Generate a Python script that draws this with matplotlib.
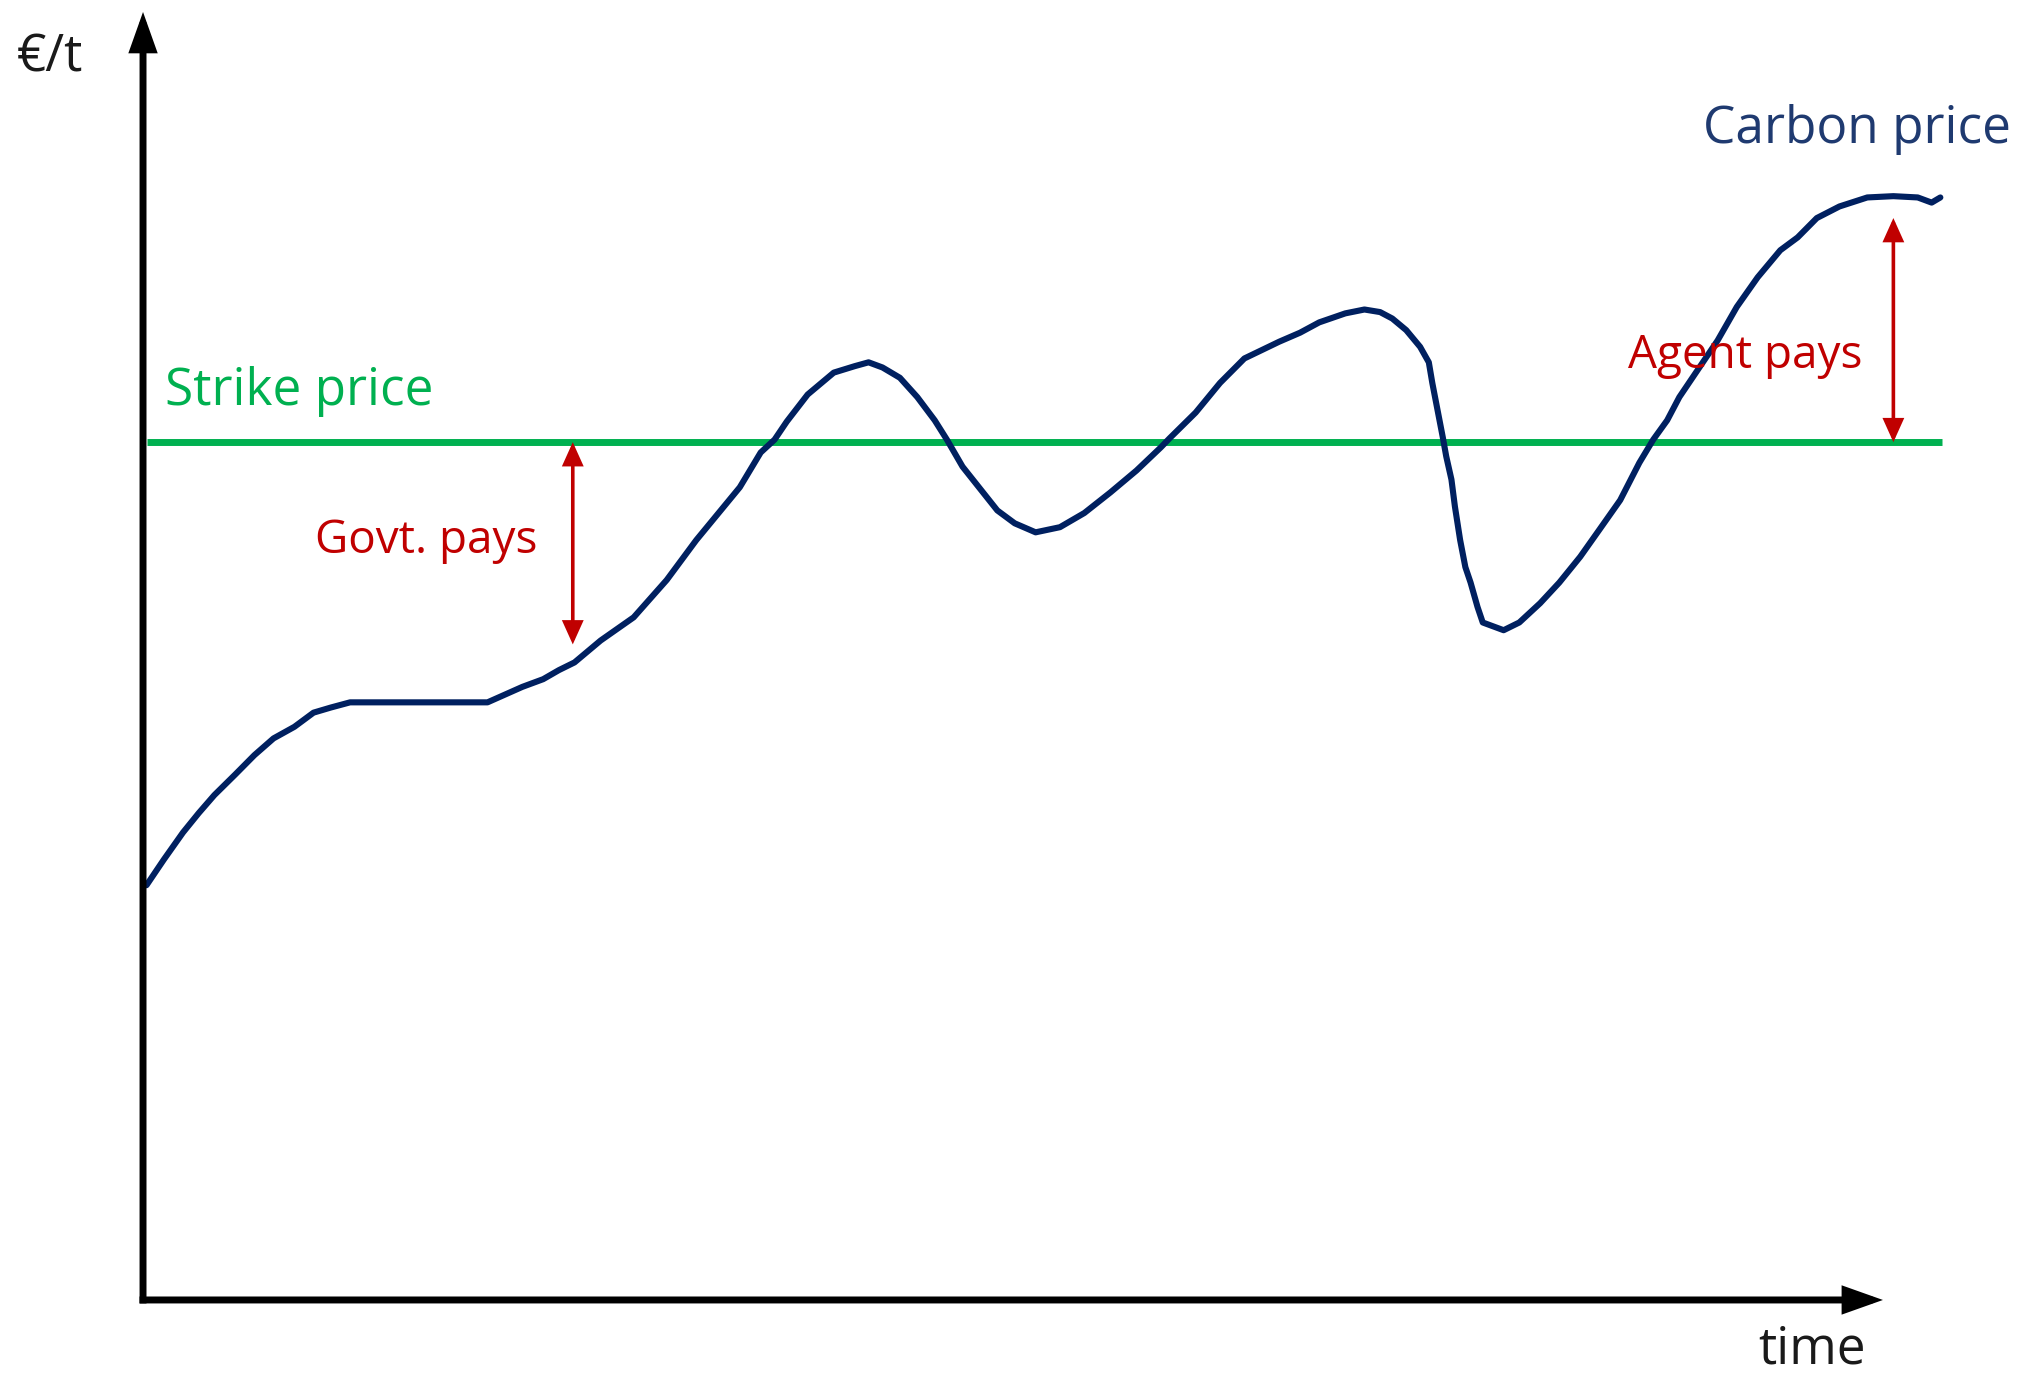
import matplotlib.pyplot as plt
from matplotlib.patches import FancyArrowPatch

# =====================================================
# DATA
# =====================================================
# time axis runs 0..100, price axis runs 0..100 (arbitrary units)
time = [0.2, 1.2, 2.3, 3.2, 4.1, 5.3, 6.4, 7.5, 8.7, 9.8,
        10.8, 11.9, 19.8, 20.8, 21.8, 23.0, 23.9, 24.8, 26.3, 28.2,
        30.1, 31.8, 34.3, 35.5, 36.3, 37.0, 38.2, 39.7, 40.9, 41.7,
        42.5, 43.5, 44.5, 45.5, 46.2, 47.1, 48.1, 49.1, 50.1, 51.3,
        52.7, 54.1, 55.6, 57.1, 58.5, 59.0, 60.5, 61.9, 63.3, 65.3,
        66.5, 67.6, 69.1, 70.2, 71.1, 71.8, 72.6, 73.4, 73.9, 74.1,
        74.4, 74.7, 74.9, 75.2, 75.4, 75.7, 76.0, 76.3, 76.7, 77.0,
        78.2, 79.1, 80.3, 81.4, 82.6, 83.7, 84.9, 86.0, 86.8, 87.6,
        88.3, 89.1, 90.5, 91.6, 92.8, 94.1, 95.1, 96.2, 97.5, 99.1,
        100.6, 102.0, 102.8, 103.3]
carbon_price = [32.2, 34.2, 36.3, 37.8, 39.2, 40.8, 42.3, 43.6, 44.5, 45.6,
                46.0, 46.4, 46.4, 47.0, 47.6, 48.2, 48.9, 49.5, 51.2, 53.0,
                55.9, 59.0, 63.1, 65.8, 66.8, 68.2, 70.3, 72.0, 72.5, 72.8,
                72.4, 71.6, 70.1, 68.3, 66.8, 64.7, 63.0, 61.3, 60.3, 59.6,
                60.0, 61.1, 62.7, 64.4, 66.2, 66.9, 68.9, 71.2, 73.1, 74.4,
                75.1, 75.9, 76.6, 76.9, 76.7, 76.2, 75.3, 74.0, 72.8, 71.2,
                69.1, 67.0, 65.5, 63.7, 61.6, 59.0, 56.9, 55.7, 53.8, 52.6,
                52.0, 52.6, 54.1, 55.7, 57.7, 59.8, 62.1, 65.0, 66.8, 68.3,
                70.1, 71.7, 74.5, 77.1, 79.4, 81.5, 82.5, 84.0, 84.9, 85.6,
                85.7, 85.6, 85.2, 85.6]

strike_price = 66.6
strike_span = [0.2, 103.4]

govt_time, govt_low = 24.7, 50.9
agent_time, agent_high = 100.6, 84.0

NAVY = "#002060"
GREEN = "#00B050"
RED = "#C00000"

plt.rcParams["font.family"] = ["Open Sans", "DejaVu Sans"]


# =====================================================
# HELPERS
# =====================================================
def arrow(ax, start, end, style, color, lw, scale):
    a = FancyArrowPatch(
        start, end,
        arrowstyle=style,
        mutation_scale=scale,
        color=color,
        linewidth=lw,
        shrinkA=0, shrinkB=0,
        capstyle="butt",
        joinstyle="miter",
        zorder=4,
    )
    ax.add_patch(a)


# =====================================================
# PLOT
# =====================================================
fig = plt.figure(figsize=(20.23, 13.73), dpi=100)
ax = fig.add_axes([0, 0, 1, 1])
ax.set_xlim(-8.22, 108.05)
ax.set_ylim(-5.67, 100.93)
ax.axis("off")

# axes with arrow heads
axis_style = "-|>,head_length=0.9,head_width=0.32"
arrow(ax, (0, -0.27), (0, 100), axis_style, "black", 5, 22)
arrow(ax, (-0.2, 0), (100, 0), axis_style, "black", 5, 22)

# strike price line
ax.plot(strike_span, [strike_price, strike_price], color=GREEN, linewidth=5,
        solid_capstyle="butt", zorder=2)

# carbon price curve
ax.plot(time, carbon_price, color=NAVY, linewidth=4.4, solid_joinstyle="round",
        solid_capstyle="round", zorder=3)

# payment arrows
pay_style = "<|-|>,head_length=1.0,head_width=0.45"
arrow(ax, (govt_time, govt_low), (govt_time, strike_price), pay_style, RED, 2.6, 13)
arrow(ax, (agent_time, strike_price), (agent_time, agent_high), pay_style, RED, 2.6, 13)

# labels
ax.text(-7.24, 95.34, "€/t", fontsize=37, color="#1a1a1a", va="baseline")
ax.text(92.82, -4.97, "time", fontsize=37, color="#1a1a1a", va="baseline")
ax.text(89.66, 89.83, "Carbon price", fontsize=37, color="#1F3A70", va="baseline")
ax.text(1.26, 69.49, "Strike price", fontsize=37, color=GREEN, va="baseline")
ax.text(9.89, 58.0, "Govt. pays", fontsize=33, color=RED, va="baseline")
ax.text(85.34, 72.36, "Agent pays", fontsize=33, color=RED, va="baseline")

plt.savefig("out.png", dpi=100)
